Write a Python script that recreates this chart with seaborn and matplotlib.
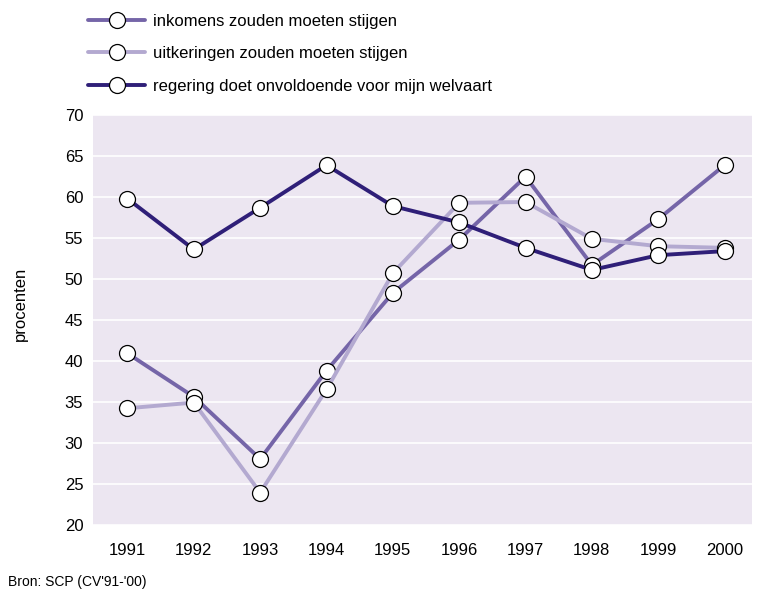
import matplotlib
matplotlib.use("Agg")
import matplotlib.pyplot as plt
from matplotlib import font_manager
import pandas as pd
import seaborn as sns

# Survey years and percentages per statement
jaren = [1991, 1992, 1993, 1994, 1995, 1996, 1997, 1998, 1999, 2000]
inkomens = [40.9, 35.6, 28.0, 38.8, 48.3, 54.8, 62.5, 51.7, 57.3, 63.9]
uitkeringen = [34.2, 34.9, 23.9, 36.5, 50.7, 59.3, 59.4, 54.9, 54.0, 53.8]
regering = [59.8, 53.6, 58.7, 63.9, 58.9, 56.9, 53.8, 51.1, 52.9, 53.4]

labels = [
    "inkomens zouden moeten stijgen",
    "uitkeringen zouden moeten stijgen",
    "regering doet onvoldoende voor mijn welvaart",
]
kleuren = ["#7565a8", "#b3a9d0", "#2f1f78"]
yticks = [20, 25, 30, 35, 40, 45, 50, 55, 60, 65, 70]

sns.set_theme(style="white")
beschikbaar = {f.name for f in font_manager.fontManager.ttflist}
families = [f for f in ["Liberation Sans Narrow", "Liberation Sans", "DejaVu Sans"] if f in beschikbaar]
plt.rcParams["font.family"] = families
plt.rcParams["text.color"] = "black"

fig = plt.figure(figsize=(7.75, 5.94), dpi=100)
ax = fig.add_axes([0.120, 0.117, 0.850, 0.689])
ax.set_facecolor("#ece6f1")

df = pd.DataFrame({
    "jaar": jaren * 3,
    "waarde": inkomens + uitkeringen + regering,
    "reeks": [labels[0]] * 10 + [labels[1]] * 10 + [labels[2]] * 10,
})

sns.lineplot(
    data=df, x="jaar", y="waarde", hue="reeks", hue_order=labels,
    palette=kleuren, marker="o", markersize=11.5, markerfacecolor="white",
    markeredgecolor="black", markeredgewidth=0.9, linewidth=2.8,
    ax=ax, legend=False,
)

ax.set_xlim(1990.48, 2000.41)
ax.set_ylim(20, 70)
ax.set_xticks(jaren)
ax.set_xticklabels([str(j) for j in jaren])
ax.set_yticks(yticks)
ax.set_yticklabels([str(v) for v in yticks])
ax.tick_params(axis="both", length=0, labelsize=12, colors="black")
ax.tick_params(axis="x", pad=13)
ax.tick_params(axis="y", pad=7)
ax.grid(axis="y", color="white", linewidth=1.2)
ax.grid(axis="x", visible=False)
for s in ax.spines.values():
    s.set_visible(False)
ax.set_xlabel("")
ax.set_ylabel("")
fig.text(0.026, 0.488, "procenten", fontsize=12, rotation=90,
         ha="center", va="center", color="black")

handles = ax.get_lines()[:3]
leg = fig.legend(
    handles, labels, loc="upper left", bbox_to_anchor=(0.100, 0.995),
    frameon=False, fontsize=12, handlelength=3.4, handletextpad=0.5,
    labelspacing=1.05, borderaxespad=0.25,
)
for t in leg.get_texts():
    t.set_color("black")

fig.text(0.010, 0.008, "Bron: SCP (CV'91-'00)", fontsize=10, ha="left", va="bottom",
         color="black")

fig.savefig("out.png", dpi=100)
